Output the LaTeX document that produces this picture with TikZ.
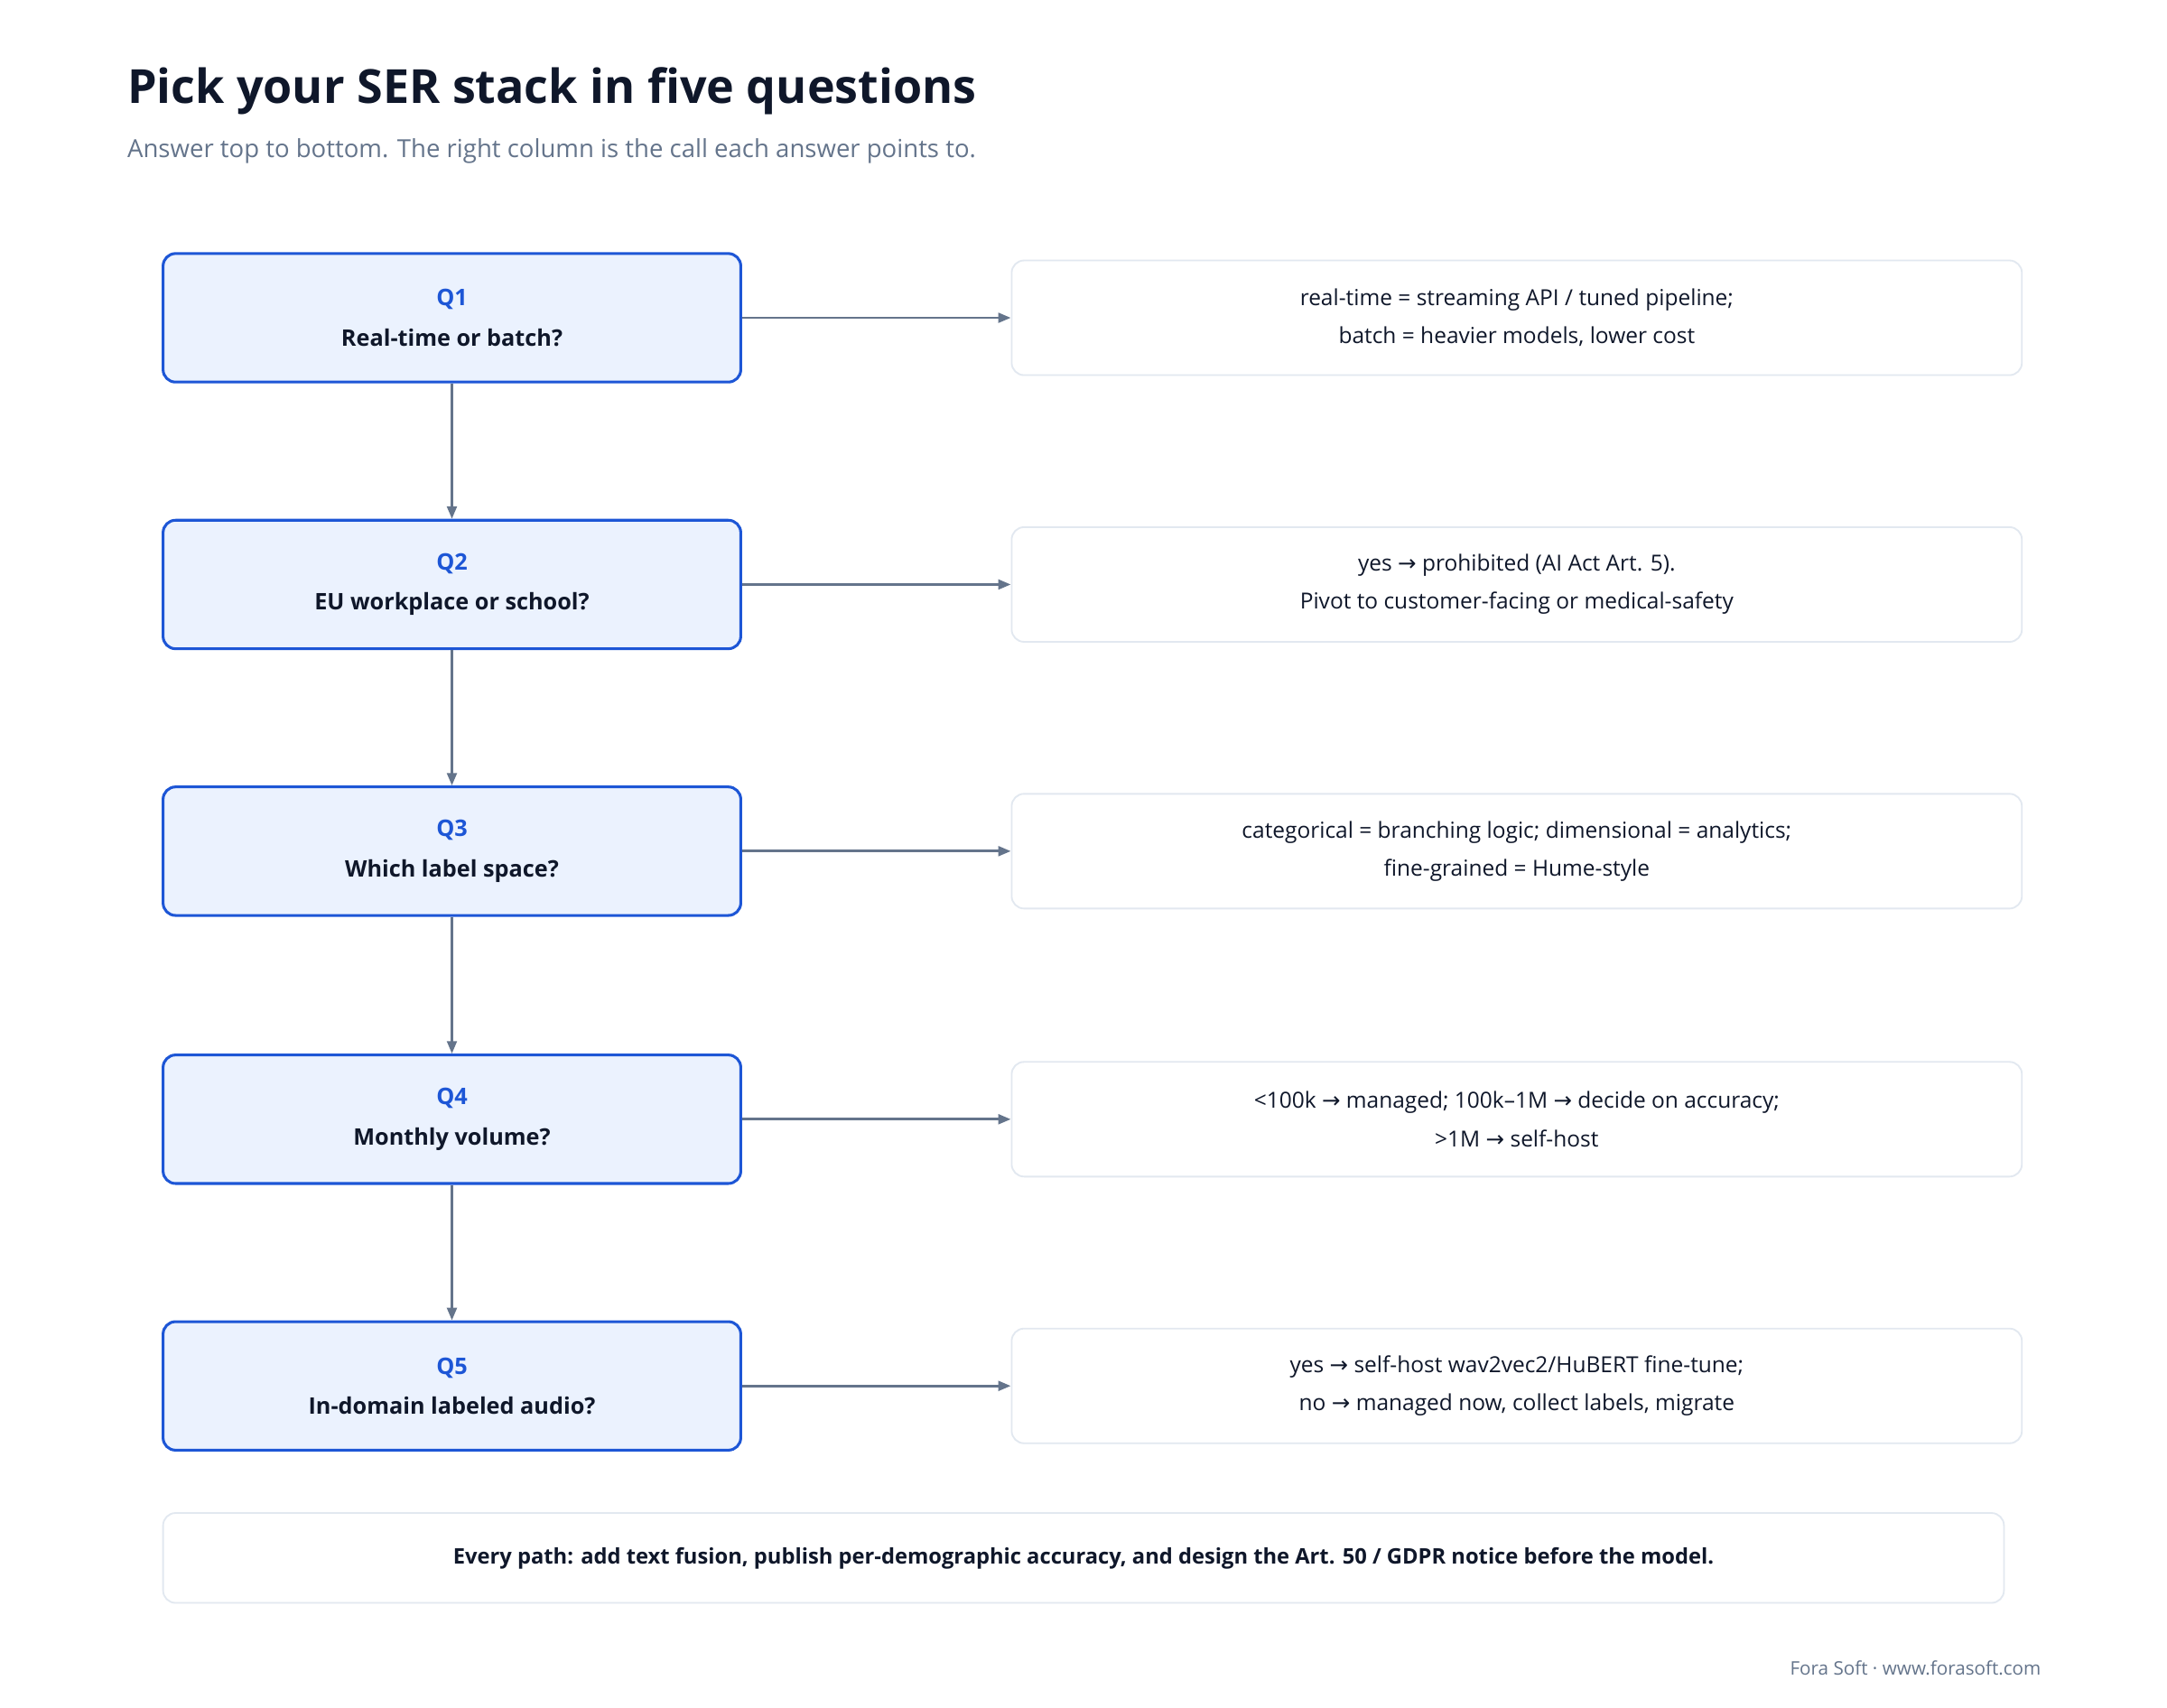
\documentclass[tikz,border=0pt]{standalone}
\usepackage{fontspec}
\setmainfont{Open Sans}
\newfontfamily\dvs{DejaVu Sans}
\newcommand\rarr{{\dvs\char"2192}}
\usetikzlibrary{arrows.meta}
\definecolor{qblue}{HTML}{1D56D6}
\definecolor{qfill}{HTML}{EBF2FE}
\definecolor{ink}{HTML}{0F172A}
\definecolor{sub}{HTML}{64748B}
\definecolor{rim}{HTML}{E2E8F0}
\definecolor{arr}{HTML}{64748B}
\begin{document}
\begin{tikzpicture}[x=1pt,y=-1pt,
  q/.style={draw=qblue,line width=2pt,fill=qfill,rounded corners=9pt,minimum width=418pt,minimum height=93pt,align=center,font=\fontsize{16.5}{29}\selectfont\bfseries,text=ink},
  a/.style={draw=rim,line width=1.2pt,fill=white,rounded corners=9pt,minimum width=731pt,minimum height=83pt,align=center,font=\fontsize{16}{27.5}\selectfont,text=ink},
  ar/.style={draw=arr,line width=1.8pt,-{Triangle[length=9pt,width=7pt]}}]
\useasboundingbox (0,0) rectangle (1568,1236);
\fill[white] (0,0) rectangle (1568,1236);
\node[anchor=base west,font=\fontsize{34}{40}\selectfont\bfseries,text=ink,inner sep=0] (title) at (92,75) {Pick your SER stack in five questions};
\node[anchor=base west,font=\fontsize{18}{22}\selectfont,text=sub,inner sep=0] (subt) at (92,114) {Answer top to bottom. The right column is the call each answer points to.};
\foreach \i/\y/\qq/\aa in {
 1/230/{Real-time or batch?}/{real-time = streaming API / tuned pipeline;\\batch = heavier models, lower cost},
 2/423/{EU workplace or school?}/{yes \rarr{} prohibited (AI Act Art. 5).\\Pivot to customer-facing or medical-safety},
 3/616/{Which label space?}/{categorical = branching logic; dimensional = analytics;\\fine-grained = Hume-style},
 4/810/{Monthly volume?}/{<100k \rarr{} managed; 100k–1M \rarr{} decide on accuracy;\\>1M \rarr{} self-host},
 5/1003/{In-domain labeled audio?}/{yes \rarr{} self-host wav2vec2/HuBERT fine-tune;\\no \rarr{} managed now, collect labels, migrate}}{
 \node[q] (q\i) at (327,\y) {\textcolor{qblue}{Q\i}\\\qq};
 \node[a] (a\i) at (1097.5,\y) {\aa};
 \draw[ar] (q\i.east) -- (a\i.west);
}
\foreach \i/\j in {1/2,2/3,3/4,4/5}{\draw[ar] (q\i.south) -- (q\j.north);}
\node[draw=rim,line width=1.2pt,rounded corners=9pt,minimum width=1332pt,minimum height=65pt,font=\fontsize{15.5}{20}\selectfont\bfseries,text=ink] (note) at (784,1127.5) {Every path: add text fusion, publish per-demographic accuracy, and design the Art. 50 / GDPR notice before the model.};
\node[anchor=base east,font=\fontsize{13.5}{16}\selectfont,text=sub,inner sep=0] (foot) at (1477,1212) {Fora Soft · www.forasoft.com};
\end{tikzpicture}
\end{document}
